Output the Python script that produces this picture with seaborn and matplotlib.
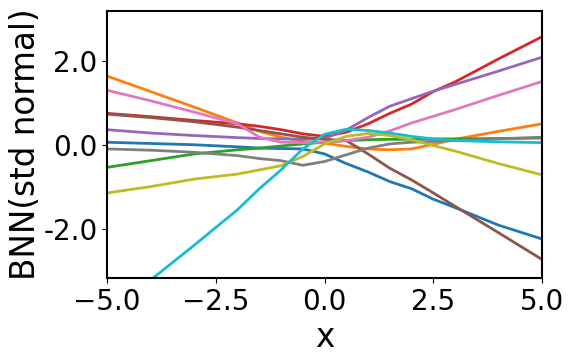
import matplotlib
matplotlib.use("Agg")
import matplotlib.pyplot as plt
import pandas as pd
import seaborn as sns

# x grid shared by every sampled BNN function
x = [-5, -4, -3, -2, -1.5, -1, -0.5, 0, 0.5, 1, 1.5, 2, 2.5, 3, 4, 5]

f0 = [0.06, 0.03, 0.0, -0.05, -0.08, -0.09, -0.1, -0.22, -0.45, -0.65, -0.88, -1.05, -1.3, -1.5, -1.92, -2.25]
f1 = [1.64, 1.27, 0.9, 0.52, 0.32, 0.18, 0.08, 0.04, -0.04, -0.1, -0.12, -0.1, 0.01, 0.13, 0.32, 0.5]
f2 = [-0.54, -0.38, -0.22, -0.12, -0.08, -0.03, 0.02, 0.06, 0.1, 0.12, 0.13, 0.13, 0.14, 0.14, 0.15, 0.16]
f3 = [0.75, 0.67, 0.58, 0.5, 0.44, 0.36, 0.26, 0.2, 0.3, 0.5, 0.75, 0.97, 1.27, 1.5, 2.05, 2.58]
f4 = [0.36, 0.28, 0.22, 0.17, 0.15, 0.14, 0.13, 0.15, 0.35, 0.65, 0.92, 1.1, 1.28, 1.44, 1.76, 2.09]
f5 = [0.73, 0.65, 0.55, 0.42, 0.34, 0.26, 0.18, 0.13, 0.1, -0.22, -0.56, -0.84, -1.15, -1.47, -2.1, -2.74]
f6 = [1.3, 1.05, 0.78, 0.5, 0.18, 0.06, 0.05, 0.06, 0.1, 0.18, 0.33, 0.52, 0.68, 0.84, 1.18, 1.51]
f7 = [-0.1, -0.13, -0.18, -0.26, -0.33, -0.38, -0.49, -0.4, -0.24, -0.08, 0.02, 0.06, 0.08, 0.1, 0.14, 0.18]
f8 = [-1.15, -1.0, -0.82, -0.7, -0.6, -0.5, -0.28, 0.02, 0.2, 0.27, 0.22, 0.12, -0.02, -0.15, -0.45, -0.72]
f9 = [-4.07, -3.23, -2.4, -1.55, -1.05, -0.6, -0.1, 0.25, 0.37, 0.34, 0.28, 0.2, 0.14, 0.1, 0.07, 0.05]

samples = [f0, f1, f2, f3, f4, f5, f6, f7, f8, f9]

rows = []
for i, ys in enumerate(samples):
    for xv, yv in zip(x, ys):
        rows.append({"x": xv, "y": yv, "sample": i})
df = pd.DataFrame(rows)

fig = plt.figure(figsize=(5.76, 3.6), dpi=100)
ax = fig.add_axes([0.186, 0.228, 0.755, 0.741])
sns.lineplot(data=df, x="x", y="y", hue="sample", palette="tab10",
             linewidth=2, legend=False, ax=ax)

ax.set_xlim(-5, 5)
ax.set_ylim(-3.18, 3.19)
ax.set_xticks([-5, -2.5, 0, 2.5, 5])
ax.set_yticks([-2, 0, 2])
ax.set_yticklabels(["-2.0", "0.0", "2.0"])
ax.tick_params(labelsize=20)
ax.set_xlabel("x", fontsize=23.5)
ax.set_ylabel("BNN(std normal)", fontsize=23.5, labelpad=1)
for s in ax.spines.values():
    s.set_linewidth(1.5)

plt.savefig("out.png", dpi=100)
